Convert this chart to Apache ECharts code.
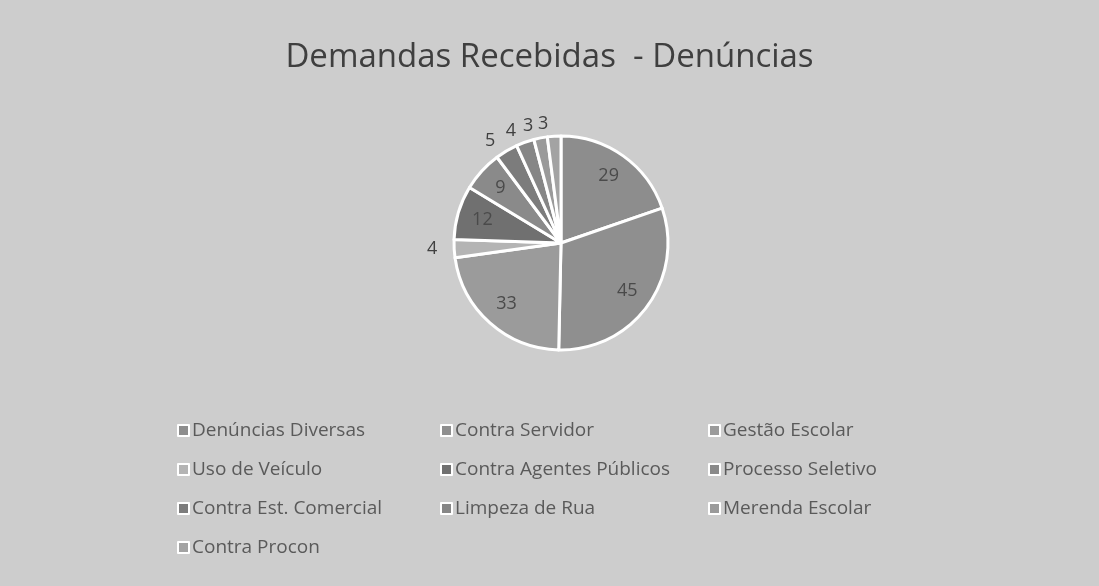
<!DOCTYPE html>
<html>
<head>
<meta charset="utf-8">
<title>Demandas Recebidas - Denúncias</title>
<script src="https://cdn.jsdelivr.net/npm/echarts@6/dist/echarts.min.js"></script>
<style>
  html, body { margin: 0; padding: 0; background: #fff; }
  #chart { width: 1099px; height: 586px; }
</style>
</head>
<body>
<div id="chart"></div>
<script>
// dados (ordem das fatias, sentido horario a partir do topo)
var categorias = ['Denúncias Diversas', 'Contra Servidor', 'Gestão Escolar',
  'Uso de Veículo', 'Contra Agentes Públicos', 'Processo Seletivo',
  'Contra Est. Comercial', 'Limpeza de Rua', 'Merenda Escolar', 'Contra Procon']
var valores = [29, 45, 33, 4, 12, 9, 5, 4, 3, 3]
// tons de cinza (digitalizacao)
var cores = ['#8d8d8d', '#8f8f8f', '#9b9b9b', '#b4b4b4', '#707070',
  '#8a8a8a', '#7c7c7c', '#868686', '#9a9a9a', '#a3a3a3']
// rotulos dentro da fatia (true) ou fora (false)
var rotuloDentro = [true, true, true, false, true, true, false, false, false, false]

var fonte = '"Open Sans", "Noto Sans", sans-serif'

var dadosPizza = categorias.map(function (nome, i) {
  return {
    name: nome,
    value: valores[i],
    itemStyle: { color: cores[i] },
    label: { show: !rotuloDentro[i] }
  }
})
// serie fantasma so para posicionar os rotulos internos mais perto da borda
var dadosRotulos = categorias.map(function (nome, i) {
  return {
    name: nome,
    value: valores[i],
    label: { show: rotuloDentro[i] }
  }
})

var colunas = [
  [categorias[0], categorias[3], categorias[6], categorias[9]],
  [categorias[1], categorias[4], categorias[7]],
  [categorias[2], categorias[5], categorias[8]]
]
var colunasX = [172, 435, 703]

var legendas = colunas.map(function (itens, c) {
  return {
    data: itens,
    orient: 'vertical',
    left: colunasX[c],
    top: 416,
    icon: 'rect',
    itemWidth: 11,
    itemHeight: 11,
    itemGap: 20,
    itemStyle: { borderColor: '#ffffff', borderWidth: 2 },
    textStyle: { fontFamily: fonte, fontSize: 19, color: '#5a5a5a', padding: [0, 0, 0, -2] }
  }
})

var myChart = echarts.init(document.getElementById('chart'))
myChart.setOption({
  backgroundColor: '#cdcdcd',
  animation: false,
  title: {
    text: 'Demandas Recebidas  - Denúncias',
    left: 'center',
    top: 36,
    textStyle: { fontFamily: fonte, fontSize: 33, fontWeight: 'normal', color: '#3f3f3f' }
  },
  legend: legendas,
  series: [
    {
      type: 'pie',
      center: [561, 243],
      radius: 107,
      startAngle: 90,
      clockwise: true,
      avoidLabelOverlap: false,
      itemStyle: { borderColor: '#ffffff', borderWidth: 3 },
      label: {
        position: 'outside',
        formatter: '{c}',
        fontFamily: fonte,
        fontSize: 18,
        color: '#404040'
      },
      labelLine: { show: false, length: 12, length2: 0 },
      labelLayout: { hideOverlap: false },
      emphasis: { disabled: true },
      data: dadosPizza
    },
    {
      type: 'pie',
      center: [561, 243],
      radius: 158,
      startAngle: 90,
      clockwise: true,
      silent: true,
      avoidLabelOverlap: false,
      itemStyle: { color: 'rgba(0,0,0,0)' },
      label: {
        position: 'inside',
        formatter: '{c}',
        fontFamily: fonte,
        fontSize: 18,
        color: '#4a4a4a'
      },
      labelLine: { show: false },
      labelLayout: { hideOverlap: false },
      data: dadosRotulos
    }
  ]
})
window.addEventListener('resize', function () {
  myChart.resize()
})
</script>
</body>
</html>
